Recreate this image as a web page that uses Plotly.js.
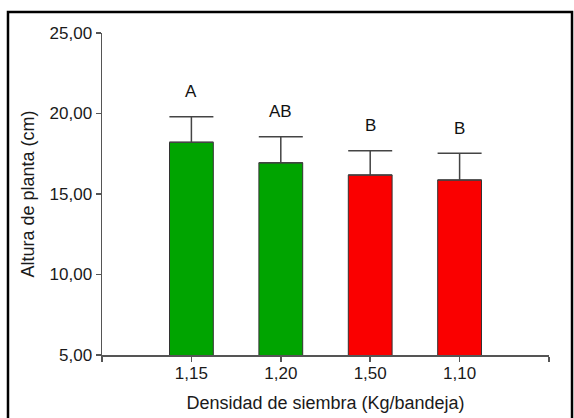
<!DOCTYPE html>
<html><head><meta charset="utf-8">
<script src="https://cdn.plot.ly/plotly-3.0.1.min.js"></script>
<style>body{margin:0;background:#fff}#chart{width:574px;height:418px}</style>
</head><body><div id="chart"></div>
<script>
const categories = ['1,15', '1,20', '1,50', '1,10'];
const means = [18.21, 16.94, 16.18, 15.87];
const errorsPlus = [1.59, 1.62, 1.51, 1.66];
const errorsMinus = [0, 0, 0, 0];
const letters = ['A', 'AB', 'B', 'B'];
const barColors = ['#00a400', '#00a400', '#fa0000', '#fa0000'];
const yTickVals = [5, 10, 15, 20, 25];
const yTickText = ['5,00', '10,00', '15,00', '20,00', '25,00'];

const xPos = categories.map((c, i) => i);
const font = 'Liberation Sans, Arial, sans-serif';

const trace = {
  type: 'bar',
  x: xPos,
  y: means,
  width: 0.49,
  marker: {color: barColors, line: {color: '#333', width: 1}},
  error_y: {type: 'data', symmetric: false, array: errorsPlus, arrayminus: errorsMinus,
            color: '#444', thickness: 1.5, width: 22},
  hoverinfo: 'skip'
};

const annotations = letters.map((t, i) => ({
  x: xPos[i], y: means[i] + errorsPlus[i], xref: 'x', yref: 'y',
  text: t, showarrow: false, yanchor: 'middle', yshift: 25,
  font: {family: font, size: 17, color: '#111'}
}));

const layout = {
  width: 574, height: 418,
  margin: {l: 102, r: 25, t: 33, b: 63},
  paper_bgcolor: '#fff', plot_bgcolor: '#fff',
  showlegend: false,
  bargap: 0.5,
  xaxis: {
    range: [-1, 4],
    tickvals: [-1].concat(xPos, [4]),
    ticktext: [''].concat(categories, ['']),
    showline: true, linecolor: '#555', linewidth: 1.5,
    ticks: 'outside', ticklen: 5, tickcolor: '#555', tickwidth: 1.5,
    ticklabelstandoff: -3,
    showgrid: false, zeroline: false,
    tickfont: {family: font, size: 17, color: '#1a1a1a'},
    title: {text: 'Densidad de siembra (Kg/bandeja)', standoff: 14,
            font: {family: font, size: 18, color: '#1a1a1a'}}
  },
  yaxis: {
    range: [5, 25],
    tickvals: yTickVals, ticktext: yTickText,
    showline: true, linecolor: '#555', linewidth: 1.5,
    ticks: 'outside', ticklen: 5, tickcolor: '#555', tickwidth: 1.5,
    showgrid: false, zeroline: false,
    tickfont: {family: font, size: 17, color: '#1a1a1a'},
    title: {text: 'Altura de planta (cm)', standoff: 10,
            font: {family: font, size: 18, color: '#1a1a1a'}}
  },
  annotations: annotations,
  shapes: [{
    type: 'rect', xref: 'paper', yref: 'paper',
    x0: -0.2103, x1: 1.0515, y0: -0.25, y1: 1.0652,
    line: {color: '#000', width: 2.5}, fillcolor: 'rgba(0,0,0,0)', layer: 'above'
  }]
};

Plotly.newPlot('chart', [trace], layout, {displayModeBar: false, staticPlot: true});
</script>
</body></html>
